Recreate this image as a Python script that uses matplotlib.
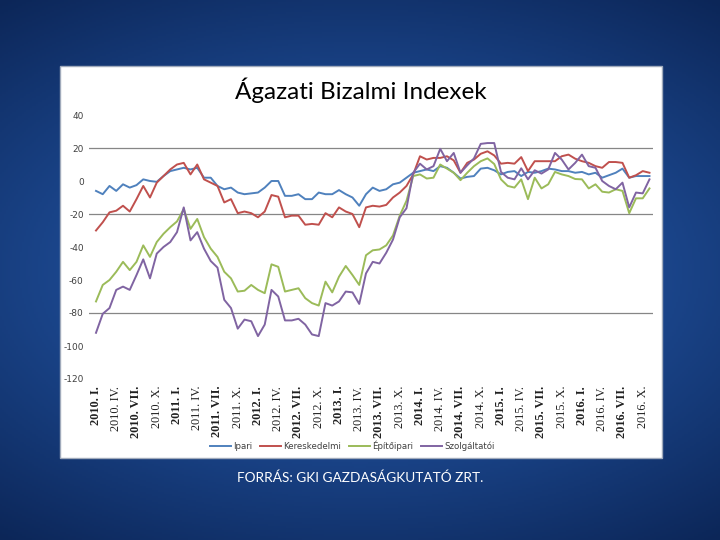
import numpy as np
import matplotlib.pyplot as plt
from matplotlib.patches import Rectangle
from matplotlib.colors import LinearSegmentedColormap

plt.rcParams['axes.unicode_minus'] = False

# havi adatok 2010 jan - 2016 nov
ipari = [-6, -8, -3, -6, -2, -4, -2.5, 1, 0, -0.5, 3, 6, 7, 8, 7, 8, 2, 2, -3, -5,
         -4, -7, -8, -7.5, -7, -4, 0, 0, -9, -9, -8, -11, -11, -7, -8, -8, -5.5, -8, -10, -15,
         -8, -4, -6, -5, -2, -1, 2, 5, 6, 7, 6, 9, 8, 5, 1.5, 2.5, 3, 7.5, 8, 6.5,
         4, 5.5, 6, 3, 5.5, 5, 6, 7.5, 7, 6, 6, 5, 5.5, 4, 5, 2, 3.5, 5, 7.5, 2,
         3, 3, 3]
kereskedelmi = [-30, -25, -19, -18, -15, -18.5, -11, -3, -10, -1, 3, 7, 10, 11, 4, 10, 1, -1, -3, -13,
                -11, -19.5, -18.5, -19.5, -22, -18.5, -8.5, -9.5, -22, -21, -21, -26.5, -26, -26.5, -19.5, -22, -16, -18.5, -20, -28,
                -16, -15, -15.5, -14.5, -10, -7, -3, 4, 15, 13, 14, 14, 15, 12.5, 5, 11, 13, 16.5, 18, 15.5,
                10.5, 11, 10.5, 14.5, 6, 12, 12, 12, 12, 15, 16, 13.5, 12, 11, 9, 8, 11.5, 11.5, 11, 2,
                3.5, 6, 5]
epitoipari = [-73, -63, -60, -55, -49, -54, -49, -39, -46, -37, -32, -28, -24.5, -17, -29, -23, -34, -41, -46, -55,
              -59, -67, -66.5, -63, -66, -68, -50.5, -52, -67, -66, -65, -71, -74, -75.5, -61, -67.5, -58, -51.5, -57, -63,
              -45, -42, -41.5, -39, -33, -21, -12, 3, 4, 1.5, 2, 10, 7.5, 5, 0.5, 5, 9, 12, 13.7, 10.3,
              1, -3, -4, 1, -11, 2, -4.5, -2, 5.5, 4, 3, 1.2, 1, -4.5, -2, -6.5, -7, -5, -6, -19.5,
              -10.5, -10.5, -4.5]
szolgaltatoi = [-92, -80.5, -77, -66, -64, -66, -57, -47.5, -59, -44, -40, -37, -31, -16, -36, -31, -41, -48.5, -52.5, -72,
                -77, -89.5, -84, -85, -94, -87, -66, -70, -84.5, -84.5, -83.5, -87, -93, -94, -74, -75.5, -73, -67, -67.5, -74.5,
                -56, -49, -50, -43.5, -35.5, -22, -16.5, 5, 10.5, 7, 9, 19.5, 12, 17, 5, 9.5, 13.7, 22.5, 23, 23,
                5.5, 2, 1, 7.7, 1, 6.5, 4.5, 7, 17, 13, 7, 11, 16, 9, 8, 0, -3, -5, -1, -16,
                -7, -7.5, 1]

negyedevek = ['I.', 'IV.', 'VII.', 'X.']
xlabels = [f'{ev}. {n}' for ev in range(2010, 2017) for n in negyedevek]
racsvonalak = [20, -20, -80]

fig = plt.figure(figsize=(7.2, 5.4), dpi=100)

# hatter
bg = fig.add_axes([0, 0, 1, 1], zorder=-10)
yy, xx = np.mgrid[-1:1:270j, -1:1:360j]
r = np.sqrt((xx * 0.85) ** 2 + (yy * 1.1) ** 2)
bg.imshow(r, cmap=LinearSegmentedColormap.from_list('bg', ['#2658a2', '#1b468c', '#0c2658']),
          aspect='auto', extent=[0, 1, 0, 1])
bg.axis('off')

# feher doboz
fig.patches.append(Rectangle((60 / 720, 1 - 458 / 540), 602 / 720, 392 / 540,
                             transform=fig.transFigure, facecolor='white',
                             edgecolor='#a0aabb', lw=1, zorder=-5))

ax = fig.add_axes([89.25 / 720, 1 - 379 / 540, 563.6 / 720, 264 / 540])
ax.set_facecolor('none')
t = np.arange(len(ipari))
ax.plot(t, ipari, color='#4F81BD', lw=1.4, label='Ipari')
ax.plot(t, kereskedelmi, color='#C0504D', lw=1.4, label='Kereskedelmi')
ax.plot(t, epitoipari, color='#9BBB59', lw=1.4, label='Építőipari')
ax.plot(t, szolgaltatoi, color='#8064A2', lw=1.4, label='Szolgáltatói')
for g in racsvonalak:
    ax.axhline(g, color='#868686', lw=0.9, zorder=0)

ax.set_xlim(-1, 82.5)
ax.set_ylim(-120, 40)
ax.set_yticks(range(-120, 41, 20))
ax.tick_params(axis='y', length=0, labelsize=6.5, labelcolor='#404040', pad=4)
ax.set_xticks(range(0, 3 * len(xlabels), 3))
ax.set_xticklabels(xlabels, rotation=90, family='Liberation Serif', fontsize=8.8)
for i, lab in enumerate(ax.get_xticklabels()):
    lab.set_fontweight('bold' if i % 2 == 0 else 'normal')
    lab.set_color('#202020')
ax.tick_params(axis='x', length=0, pad=5)
for s in ax.spines.values():
    s.set_visible(False)

fig.text(361 / 720, 1 - 90 / 540, 'Ágazati Bizalmi Indexek', ha='center', va='center',
         family='Lato', fontsize=17.5, color='black')
ax.legend(loc='center', bbox_to_anchor=(352 / 720, 1 - 446 / 540), bbox_transform=fig.transFigure,
          ncol=4, frameon=False, fontsize=6.2, handlelength=2.5, columnspacing=0.9,
          labelcolor='#404040', handletextpad=0.2)
fig.text(360 / 720, 1 - 478 / 540, 'FORRÁS: GKI GAZDASÁGKUTATÓ ZRT.', ha='center', va='center',
         family='Lato', fontsize=9.8, color='white')

fig.savefig('out.png', dpi=100)
